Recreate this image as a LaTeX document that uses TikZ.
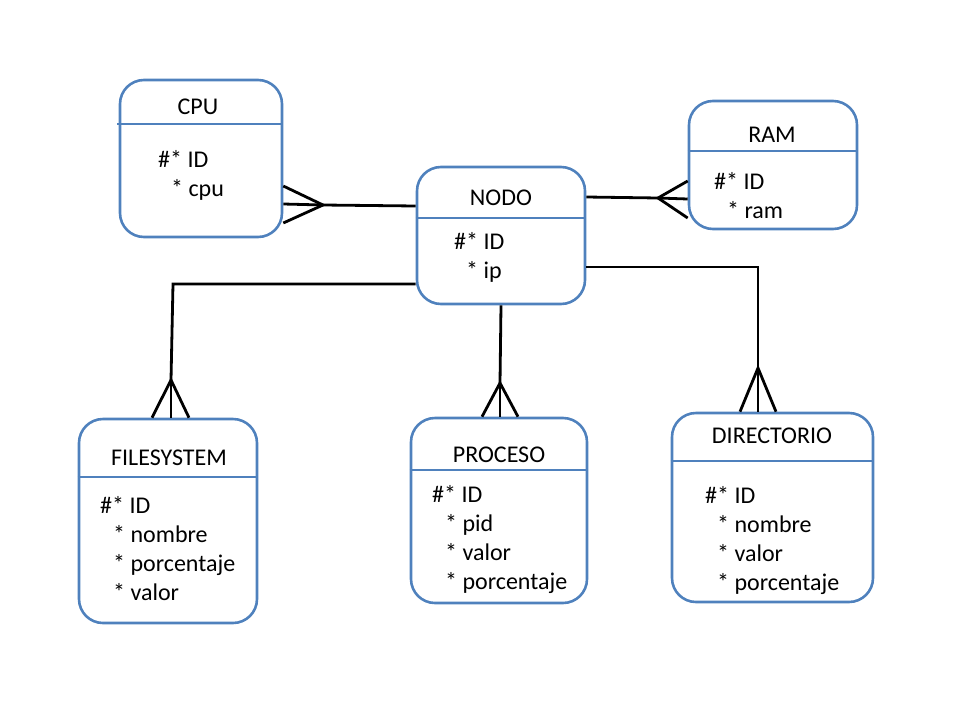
\documentclass[tikz,border=0pt]{standalone}
\usepackage{fontspec}
\setmainfont{Carlito}
\definecolor{eblue}{RGB}{79,129,189}
\begin{document}
\begin{tikzpicture}[x=1pt,y=-1pt,
  entity/.style={draw=eblue, line width=2.6pt, rounded corners=24pt, inner sep=0pt, fill=none},
  hdr/.style={draw=eblue, line width=2.6pt},
  conn/.style={draw=black, line width=2.8pt},
  lbl/.style={inner sep=0pt, anchor=base west, font=\fontsize{24}{29}\selectfont},
  ttl/.style={inner sep=0pt, anchor=base, font=\fontsize{24}{29}\selectfont}]
\useasboundingbox (0,0) rectangle (960,720);
% entities
\node[entity, minimum width=162pt, minimum height=157pt] (cpu) at (201,158.5) {};
\node[entity, minimum width=168pt, minimum height=137pt] (nodo) at (501,235.5) {};
\node[entity, minimum width=168pt, minimum height=128pt] (ram) at (773,165) {};
\node[entity, minimum width=178pt, minimum height=204pt] (fs) at (168,521) {};
\node[entity, minimum width=176pt, minimum height=185pt] (proc) at (499,510.5) {};
\node[entity, minimum width=201pt, minimum height=189pt] (dir) at (772.5,507.5) {};
% header lines
\draw[hdr] (117,124) -- (cpu.east |- 0,124);
\draw[hdr] (nodo.west |- 0,218) -- (nodo.east |- 0,218);
\draw[hdr] (ram.west |- 0,151) -- (ram.east |- 0,151);
\draw[hdr] (fs.west |- 0,477) -- (fs.east |- 0,477);
\draw[hdr] (proc.west |- 0,470) -- (proc.east |- 0,470);
\draw[hdr] (dir.west |- 0,461) -- (dir.east |- 0,461);
% titles
\node[ttl] (tcpu) at (198,114) {CPU};
\node[ttl] (tnodo) at (501,205) {NODO};
\node[ttl] (tram) at (772,142) {RAM};
\node[ttl] (tfs) at (169,465) {FILESYSTEM};
\node[ttl] (tproc) at (499,462) {PROCESO};
\node[ttl] (tdir) at (772,443) {DIRECTORIO};
% attributes
\node[lbl] (cpu1) at (158,167) {\#* ID};
\node[lbl] (cpu2) at (171,196) {* cpu};
\node[lbl] (nodo1) at (454,249) {\#* ID};
\node[lbl] (nodo2) at (466,278) {* ip};
\node[lbl] (ram1) at (714,189) {\#* ID};
\node[lbl] (ram2) at (727,218) {* ram};
\node[lbl] (fs1) at (100,513) {\#* ID};
\node[lbl] (fs2) at (113,542) {* nombre};
\node[lbl] (fs3) at (113,571) {* porcentaje};
\node[lbl] (fs4) at (113,600) {* valor};
\node[lbl] (proc1) at (432,502) {\#* ID};
\node[lbl] (proc2) at (445,531) {* pid};
\node[lbl] (proc3) at (445,560) {* valor};
\node[lbl] (proc4) at (445,589) {* porcentaje};
\node[lbl] (dir1) at (705,503) {\#* ID};
\node[lbl] (dir2) at (717,532) {* nombre};
\node[lbl] (dir3) at (717,561) {* valor};
\node[lbl] (dir4) at (717,590) {* porcentaje};
% connector apexes
\coordinate (a1) at (323,205);
\coordinate (a2) at (658,198);
\coordinate (a3) at (171,380);
\coordinate (a4) at (500,383);
\coordinate (a5) at (758,368);
% CPU - NODO
\draw[conn] (nodo.west |- 0,206) -- (a1);
\draw[conn] (cpu.east |- 0,186) -- (a1) -- (cpu.east |- 0,223);
\draw[conn] (cpu.east |- 0,204) -- (a1);
% RAM - NODO
\draw[conn] (nodo.east |- 0,197) -- (a2);
\draw[conn] (ram.west |- 0,181) -- (a2) -- (ram.west |- 0,218);
\draw[conn] (ram.west |- 0,199) -- (a2);
% FILESYSTEM - NODO
\draw[conn] (nodo.west |- 0,284) -- (173,284) -- (a3);
\draw[conn] (152,0 |- fs.north) -- (a3) -- (189,0 |- fs.north);
\draw[conn] (a3) -- (171,0 |- fs.north);
% PROCESO - NODO
\draw[conn] (nodo.south) -- (a4);
\draw[conn] (482,0 |- proc.north) -- (a4) -- (518,0 |- proc.north);
\draw[conn] (a4) -- (500,0 |- proc.north);
% DIRECTORIO - NODO
\draw[conn] (nodo.east |- 0,267) -- (758,267) -- (a5);
\draw[conn] (740,0 |- dir.north) -- (a5) -- (776,0 |- dir.north);
\draw[conn] (a5) -- (758,0 |- dir.north);
\end{tikzpicture}
\end{document}
